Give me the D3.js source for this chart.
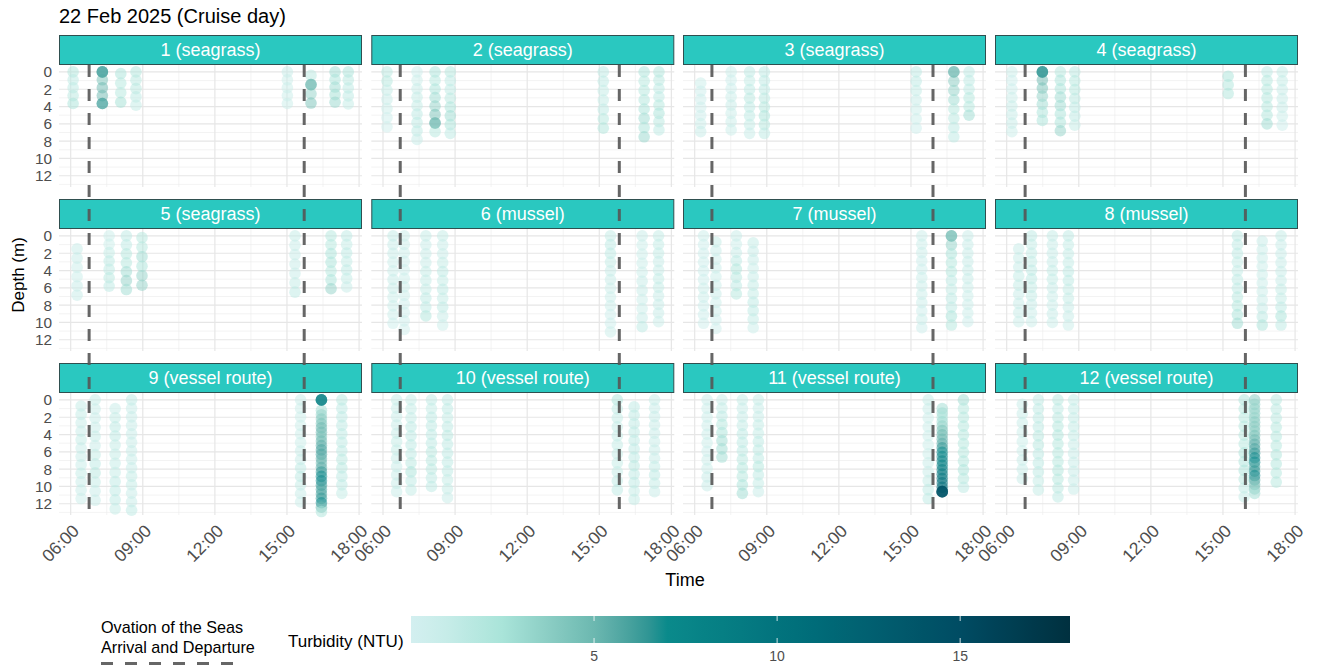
<!DOCTYPE html>
<html><head><meta charset="utf-8">
<script src="https://cdn.jsdelivr.net/npm/d3@7"></script>
<style>body{margin:0;background:#fff} svg{display:block} text{font-family:"Liberation Sans",Arial,Helvetica,sans-serif}</style>
</head><body><svg id="chart" width="1317" height="668"></svg>
<script>
// ---------------- data ----------------
const sites = ["1 (seagrass)","2 (seagrass)","3 (seagrass)","4 (seagrass)","5 (seagrass)","6 (mussel)","7 (mussel)","8 (mussel)","9 (vessel route)","10 (vessel route)","11 (vessel route)","12 (vessel route)"];
const arrivalTime   = ["06:46","06:43","06:43","06:46","06:46","06:43","06:43","06:46","06:46","06:43","06:43","06:46"];
const departureTime = ["15:43","15:50","15:55","15:56","15:43","15:50","15:55","15:56","15:43","15:50","15:55","15:56"];

// CTD casts: site, time, top & bottom depth (m), turbidity readings (NTU) from top to bottom
const profileSite = [1,1,1,1,1,1,1,1, 2,2,2,2,2,2,2, 3,3,3,3,3,3,3, 4,4,4,4,4,4,4, 5,5,5,5,5,5,5, 6,6,6,6,6,6,6, 7,7,7,7,7,7,7, 8,8,8,8,8,8,8, 9,9,9,9,9,9,9, 10,10,10,10,10,10,10, 11,11,11,11,11,11,11, 12,12,12,12,12,12,12];
const profileTime = [
 "06:06","07:19","08:05","08:43","15:01","16:00","17:00","17:33",
 "06:10","07:25","08:10","08:48","15:10","16:52","17:29",
 "06:15","07:31","08:17","08:54","15:13","16:47","17:25",
 "06:13","07:29","08:14","08:50","15:13","16:50","17:28",
 "06:16","07:36","08:19","08:58","15:20","16:50","17:29",
 "06:25","06:53","07:47","08:29","15:28","16:47","17:28",
 "06:22","06:53","07:44","08:26","15:27","16:41","17:22",
 "06:30","07:02","07:54","08:34","15:36","16:38","17:25",
 "06:26","07:01","07:51","08:32","15:34","16:26","17:17",
 "06:34","07:10","08:01","08:41","15:45","16:27","17:18",
 "06:31","07:08","07:59","08:39","15:43","16:18","17:11",
 "06:39","07:19","08:08","08:47","15:53","16:19","17:13"];
const profileTop = [
 0,0,0.2,0,0,0.4,0,0,
 0,0,0,0,0,0,0,
 1.3,0,0,0,0,0,0,
 0,0,0,0,0.5,0,0,
 1.5,0,0,0.2,0,0,0,
 0,0,0,0,0,0,0,
 0,0.7,0,0.8,0,0,0,
 1.5,0,0,0,0,0.6,0,
 0.7,0,1,0,0,1.2,0,
 0,0,0,0,0,0.8,0,
 0,0,0,0,0,1.0,0,
 0.5,0,0,0,0,0,0];
const profileBottom = [
 3.65,3.65,3.5,3.85,3.65,3.6,3.5,3.7,
 6.35,7.8,6.9,7.1,6.5,7.5,6.7,
 6.9,6.7,7.1,7.1,6.5,7.5,5.0,
 6.9,5.6,6.8,6.15,2.5,6.0,6.15,
 6.85,5.8,6.2,5.7,6.5,6.1,5.9,
 10.1,10.8,9.25,10.3,11.1,10.5,9.9,
 10.1,10.7,6.7,10.6,10.6,10.3,9.9,
 9.9,9.9,10.0,10.3,10.1,10.3,10.3,
 11.4,11.6,12.6,12.75,11.8,12.9,10.8,
 10.6,10.4,10.0,11.3,10.4,11.5,10.6,
 9.9,6.6,10.8,10.6,11.4,10.6,10.1,
 9.1,10.4,11.2,10.3,11.2,10.8,9.5];
const profileNTU = [
 // site 1
 [2.2,1.5,1.5,1.8,2.5],[5.5,4.5,5,5,6],[2.5,2,2,2.8],[2.2,1.8,1.8,1.5,1.2],[1,0.8,0.8,0.8,0.7],[1.8,5,3.5,4.5],[3,2.5,3,2.8,3.2],[2.5,1.8,1.5,1.5,1.2],
 // site 2
 [1.8,2,1.2,1,0.8,0.6,0.5],[0.6,0.8,1,1.2,1.2,1.5,1.5,1.5,1],[2.5,2,2.5,3,3.5,4.5,5,2],[2,1.5,1.5,1.8,2.5,3,2.5,1.5],[1.5,1.5,1.2,1.2,1.5,2,2.2],[2.5,2,2,2.2,2.5,3,2.5,3.2],[2.2,1.8,1.5,1.5,2,2.5,1.8,1.5],
 // site 3
 [0.8,0.6,0.6,0.5,0.6,0.8,1],[0.8,0.6,0.6,0.8,1,0.8,0.7,0.8],[1.5,1.2,1.5,1.8,1.5,1.5,1.2,1],[1.5,1.5,1.5,1.8,2,2.5,2,1.5],[1.5,1.5,1.2,1,0.8,0.7,0.6],[5,4,3.5,3,2,1.8,1.5,1.5],[1.5,1.5,1.5,2,2,3],
 // site 4
 [0.8,0.6,0.6,0.8,1,1,1,0.8],[6.5,5,4.5,3.5,3,2.5,2.5],[2,2.5,2.5,3,3,2.5,2.5,3.5],[1.8,2,2,1.8,1.5,1.5,1.2],[2.5,2.2,2.2],[1.5,2,2,2,2,2.2,3],[1.2,1.2,1,1,1,0.8,0.6],
 // site 5
 [1,1,0.8,0.8,1,1],[0.8,0.8,1.2,1.5,1.5,1.8,1.5],[1.5,1.5,2,2,3,3.5,3],[2,2,3,2.5,3.5,3.5],[1.2,1,1,1,1,1.2,1.5],[2,2,2.5,2.5,2,2.5,3.5],[1.5,1.2,1.5,1.2,1.5,1.2,1],
 // site 6
 [1.2,1,1,0.8,0.8,1,1,0.8,0.8,0.8,0.6],[1,0.8,0.8,0.6,0.6,0.8,0.8,0.8,0.6,0.6,0.6,0.5],[1.2,1,1,1,1.2,1.2,1.2,1.5,1.5,2.2],[1.2,1,1,1.2,1.5,1.2,1.5,1.2,1.5,1,0.8],[1.2,1.5,1.5,1.2,1,1,0.8,0.8,0.8,0.6,0.6,0.8],[1,0.8,0.8,0.8,0.8,1,1,0.8,0.8,1,1.5],[1.2,1.2,1.2,1,1,1.2,1.2,1,1,1,0.8],
 // site 7
 [0.8,0.6,0.6,0.6,0.6,0.6,0.8,0.8,0.6,0.6,0.5],[1.2,1,0.8,0.8,0.8,0.8,1,0.8,0.8,0.6,0.5],[1,0.8,1,1.5,2.2,1.8,1.5,2],[1.2,1,1,0.8,1,1.2,1.2,1.5,1.5,1.2,0.8],[0.8,0.8,0.8,0.6,0.6,0.8,0.8,0.8,0.8,0.6,0.8,0.6],[4.5,3.5,2.5,2,2,1.5,1.2,1.5,1.5,2.5,2],[1,1,1,1,1,1,0.8,0.8,0.8,0.8,0.6],
 // site 8
 [1,1,1,1.2,1.2,1,1,1,0.8],[1.5,1.2,1.2,1.2,1.5,1.5,1.2,1.2,1,0.8,0.8],[1.2,1,1,1,1.2,1.2,1,0.8,0.8,1,0.8],[1.5,1.2,1.2,1.2,1.5,1.5,1.2,1.2,1,1,0.8],[1.5,1.5,1.5,1.2,1.2,1.5,1.5,1.8,2,2.5,3],[1,0.8,0.8,0.8,0.8,0.8,0.8,0.8,1,1.5,2.5],[1.2,1,1,1,1,1,1.2,1.2,1.5,2.5,1.5],
 // site 9
 [1.2,1.2,1,1,1.2,1,1,1,1.2,1,1,0.8],[1.2,1,1,1,1.2,1,1.2,1.5,1.8,1.2,1,1],[1,1.2,1.5,1.5,1.2,1.2,1.2,1.2,1.5,1.5,1.5,1.2],[1.5,1,1,1,1,1,1,1,1,1.2,1.2,1,1,1.5],[1,0.8,0.8,0.8,0.8,0.8,1,1,1.5,1.5,1.2,1,0.8],
 [3,3.5,4,4.5,5,5,4.5,5,5.5,6,6,5.5,5,5.5,6.5,7,7.5,6.5,6,6,6.5,7,5,2.5],
 [2,1.5,1.5,1.5,1.5,1.5,1.5,1.8,1.8,1.5,1.5,1.2],
 // site 10
 [1.2,1,1,1,1,1.2,1.2,1,1,1,1,1],[1.2,1.2,1.2,1.5,1.5,1.5,1.5,1.8,2.5,1.5,1.2],[1.5,1.2,1.5,1.5,1.5,1.5,1.8,1.8,1.8,1.5,1.5],[1.5,1.5,1.2,1.5,1.8,1.5,1.5,1.5,1.5,1.2,1.2,1],[2.5,1.5,1.2,1.2,1.2,1.2,1.2,1.2,1.2,1.5,1.5],[1.5,1.5,1.5,1.5,1.5,1.5,1.5,1.8,1.5,1.5,1.2,1.2],[1.2,1,1,1,1,1,1,1,1.2,1.5,1.2,1],
 // site 11
 [1,0.8,0.8,0.8,0.8,0.8,0.6,0.8,0.8,1,1],[1,1.2,1.5,2,2.5,3,3,3],[1.2,1,1,1.2,1.5,1.5,1.5,1.8,2,2,2.5,3],[1.2,1,1,1.2,1.2,1.5,1.5,1.5,2,1.5,1.2,1],[1.2,1,0.8,0.8,0.8,0.8,0.8,1,1,1.2,1.5,1.5],
 [3,3,2.5,3,3.5,4.5,5,5,5.5,6.5,7,7.5,8,8.5,9,9.5,10,10.5,11,13],
 [3,2,2,2,2,2,2,2.2,2.5,2,1.5],
 // site 12
 [1,1,1,0.8,0.8,0.8,1,1,1],[1.5,1.5,1.5,1.5,1.8,1.8,1.5,1.5,1.5,1.2,1.2],[2,1.5,1.8,2,2.2,2,2,2,2.2,2,1.8,1.5],[1.2,1.2,1.2,1.2,1.2,1,1,1,1,1,1],[2.5,2,2,2,2,2,2.5,2.5,2.5,2,1.5,1.2],
 [4,3.5,3.5,3.5,3.5,4,4,4,4.5,5,5.5,6,6.5,7.5,7,6,6.5,7.5,6,5,4,3],
 [2,1.8,1.8,2,2,2,2.2,2.2,2,2]
];
// repeated readings while the sonde sat at one depth (stacked points)
const soakSite  = [1,1,1,1,2,3,4,4,7,9,9,9,11,11,11];
const soakTime  = ["07:19","07:19","07:19","16:00","08:10","16:47","07:29","07:29","16:41","16:26","16:26","16:26","16:18","16:18","16:18"];
const soakDepth = [0,0,3.65,1.47,5.9,0,0,0,0,0,0,0,10.6,10.6,10.6];
const soakNTU   = [6,6,6,5,5,5,6.5,6.5,5,8.5,8.5,8.5,14,14,14];

const xTickLabels = ["06:00","09:00","12:00","15:00","18:00"];
const legendTicks = [5,10,15];
const turbidityStops  = [0, 1, 2.5, 5, 7, 11, 15, 18];
const turbidityColors = ["#d3eff0","#c6ece8","#a9e4d9","#6cb8b0","#0a8a8b","#006c79","#004c63","#00303f"];

// ---------------- layout ----------------
const colLeft = [59, 371.3, 683, 995];
const rowTop = [35, 199, 363];
const panelW = 303, stripH = 30, panelH = 122;
const FONT = '"Liberation Sans",Arial,sans-serif';

const svg = d3.select("#chart");
const parseHM = d3.timeParse("%H:%M");
const parseHMS = d3.timeParse("%H:%M:%S");

const x = d3.scaleTime().domain([parseHMS("05:30:47"), parseHMS("18:07:19")]).range([0, panelW]);
const y = d3.scaleLinear().domain([-0.8, 13.3]).range([0, panelH]);
const color = d3.scaleLinear().domain(turbidityStops).range(turbidityColors).interpolate(d3.interpolateLab).clamp(true);

const majorX = xTickLabels.map(parseHM);
const minorX = majorX.slice(0, -1).map((d, i) => new Date((+d + +majorX[i + 1]) / 2));
const majorY = y.ticks(7);
const minorY = y.ticks(14).filter(v => !majorY.includes(v));

// title
svg.append("text").attr("x", 59).attr("y", 23).attr("font-size", 20).attr("fill", "#000")
  .text("22 Feb 2025 (Cruise day)");

sites.forEach((site, si) => {
  const c = si % 4, r = Math.floor(si / 4);
  const px = colLeft[c], sy = rowTop[r], py = sy + stripH;
  const g = svg.append("g").attr("transform", `translate(${px},${py})`);

  // grid
  g.selectAll(".gxm").data(minorX).join("line")
    .attr("x1", d => x(d)).attr("x2", d => x(d)).attr("y1", 0).attr("y2", panelH)
    .attr("stroke", "#ebebeb").attr("stroke-width", 0.6);
  g.selectAll(".gym").data(minorY).join("line")
    .attr("x1", 0).attr("x2", panelW).attr("y1", d => y(d)).attr("y2", d => y(d))
    .attr("stroke", "#ebebeb").attr("stroke-width", 0.6);
  g.selectAll(".gxM").data(majorX).join("line")
    .attr("x1", d => x(d)).attr("x2", d => x(d)).attr("y1", 0).attr("y2", panelH)
    .attr("stroke", "#e6e6e6").attr("stroke-width", 1.2);
  g.selectAll(".gyM").data(majorY).join("line")
    .attr("x1", 0).attr("x2", panelW).attr("y1", d => y(d)).attr("y2", d => y(d))
    .attr("stroke", "#e6e6e6").attr("stroke-width", 1.2);

  // points
  const pts = [];
  profileSite.forEach((s, pi) => {
    if (s !== si + 1) return;
    const vals = profileNTU[pi];
    const t = parseHM(profileTime[pi]);
    const top = profileTop[pi], bot = profileBottom[pi], n = vals.length;
    vals.forEach((v, k) => {
      const depth = n > 1 ? top + k * (bot - top) / (n - 1) : top;
      pts.push({t, depth, v});
    });
  });
  soakSite.forEach((s, k) => {
    if (s !== si + 1) return;
    pts.push({t: parseHM(soakTime[k]), depth: soakDepth[k], v: soakNTU[k]});
  });
  g.selectAll("circle").data(pts).join("circle")
    .attr("cx", d => x(d.t)).attr("cy", d => y(d.depth)).attr("r", 5.8)
    .attr("fill", d => color(d.v)).attr("fill-opacity", 0.5);

  // strip
  svg.append("rect").attr("x", px + 0.5).attr("y", sy + 0.5).attr("width", panelW - 1).attr("height", stripH - 1)
    .attr("fill", "#2ac8c0").attr("stroke", "#2f4f4f").attr("stroke-width", 1);
  svg.append("text").attr("x", px + panelW / 2).attr("y", sy + stripH / 2 + 6.2)
    .attr("text-anchor", "middle").attr("font-size", 18).attr("fill", "#fff").text(site);

  // y axis on first column
  if (c === 0) {
    const ax = svg.append("g").attr("transform", `translate(${px},${py})`)
      .call(d3.axisLeft(y).tickValues(majorY).tickSize(0).tickPadding(7));
    ax.select(".domain").remove();
    ax.selectAll("text").attr("font-size", 15.4).attr("fill", "#4d4d4d").style("font-family", FONT);
  }
  // x axis on bottom row
  if (r === 2) {
    const ax = svg.append("g").attr("transform", `translate(${px},${py + panelH})`)
      .call(d3.axisBottom(x).tickValues(majorX).tickFormat(d3.timeFormat("%H:%M")).tickSize(0));
    ax.select(".domain").remove();
    ax.selectAll("text").attr("font-size", 17.5).attr("fill", "#4d4d4d").style("font-family", FONT)
      .attr("text-anchor", "end").attr("dy", null).attr("y", 0)
      .attr("transform", "translate(9,17) rotate(-45)");
  }
});

// ship arrival / departure dashed lines per column (span all rows)
[0,1,2,3].forEach(c => {
  [arrivalTime[c], departureTime[c]].forEach(tm => {
    const xx = colLeft[c] + x(parseHM(tm));
    svg.append("line").attr("x1", xx).attr("x2", xx)
      .attr("y1", rowTop[0] + stripH).attr("y2", rowTop[2] + stripH + panelH)
      .attr("stroke", "#555").attr("stroke-width", 3).attr("stroke-dasharray", "12,12")
      .attr("stroke-opacity", 0.9);
  });
});

// axis titles
svg.append("text").attr("x", 685).attr("y", 586).attr("text-anchor", "middle")
  .attr("font-size", 18).attr("fill", "#000").text("Time");
svg.append("text").attr("transform", "translate(24,275) rotate(-90)").attr("text-anchor", "middle")
  .attr("font-size", 17).attr("fill", "#000").text("Depth (m)");

// legend: line
svg.append("text").attr("x", 101).attr("y", 633).attr("font-size", 16.2).attr("fill", "#000").text("Ovation of the Seas");
svg.append("text").attr("x", 101).attr("y", 653).attr("font-size", 16.2).attr("fill", "#000").text("Arrival and Departure");
svg.append("line").attr("x1", 101).attr("x2", 241).attr("y1", 663.5).attr("y2", 663.5)
  .attr("stroke", "#555").attr("stroke-width", 3).attr("stroke-dasharray", "12,12").attr("stroke-opacity", 0.9);

// legend: colorbar
const lx0 = 411, lx1 = 1070, ly0 = 616, ly1 = 643;
const lscale = d3.scaleLinear().domain([0, 18]).range([lx0, lx1]);
const defs = svg.append("defs");
const grad = defs.append("linearGradient").attr("id", "turbGrad").attr("x1", "0%").attr("x2", "100%");
d3.range(0, 18.01, 0.5).forEach(v => {
  grad.append("stop").attr("offset", (v / 18 * 100) + "%").attr("stop-color", color(v));
});
svg.append("rect").attr("x", lx0).attr("y", ly0).attr("width", lx1 - lx0).attr("height", ly1 - ly0)
  .attr("fill", "url(#turbGrad)");
legendTicks.forEach(v => {
  const xx = lscale(v);
  svg.append("line").attr("x1", xx).attr("x2", xx).attr("y1", ly0).attr("y2", ly0 + 5)
    .attr("stroke", "#fff").attr("stroke-width", 1).attr("stroke-opacity", 0.8);
  svg.append("line").attr("x1", xx).attr("x2", xx).attr("y1", ly1 - 5).attr("y2", ly1)
    .attr("stroke", "#fff").attr("stroke-width", 1).attr("stroke-opacity", 0.8);
  svg.append("text").attr("x", xx).attr("y", 661).attr("text-anchor", "middle")
    .attr("font-size", 14).attr("fill", "#4d4d4d").text(v);
});
svg.append("text").attr("x", 288).attr("y", 647).attr("font-size", 17).attr("fill", "#000").text("Turbidity (NTU)");
</script></body></html>
